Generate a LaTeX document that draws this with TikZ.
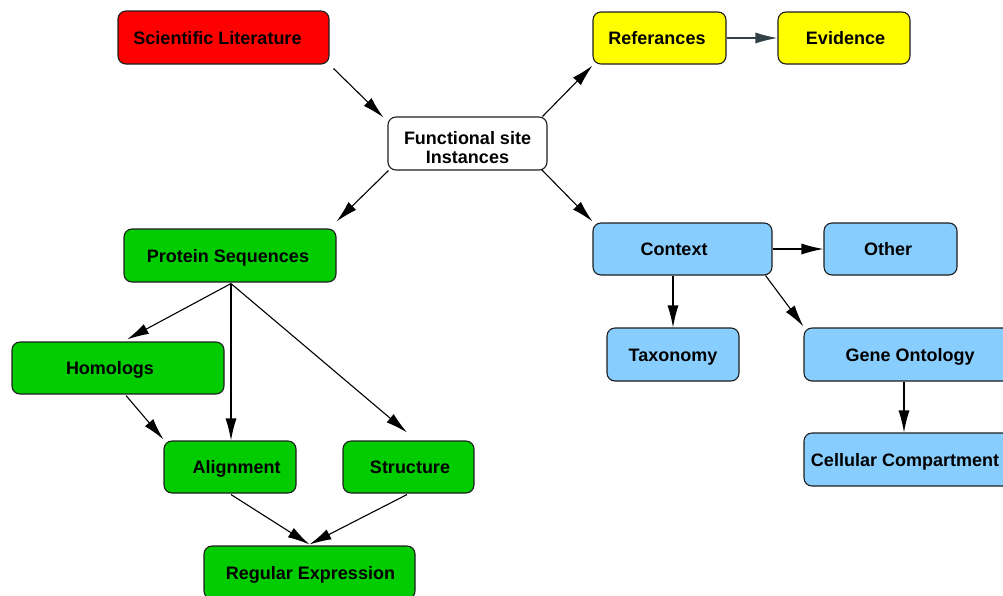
\documentclass[tikz,border=0pt]{standalone}
\usepackage{fontspec}
\setmainfont{Liberation Sans}
\usetikzlibrary{arrows.meta}
\definecolor{cred}{RGB}{255,0,0}
\definecolor{cyel}{RGB}{255,255,0}
\definecolor{cgreen}{RGB}{0,204,0}
\definecolor{cblue}{RGB}{135,206,255}
\definecolor{cborder}{RGB}{30,30,30}
\definecolor{cslate}{RGB}{52,64,72}
\begin{document}
\begin{tikzpicture}[x=1pt,y=-1pt,
  box/.style={draw=cborder, line width=1.1pt, rounded corners=8pt, inner sep=0pt,
    font=\fontsize{18}{18.7}\selectfont\bfseries, text height=13pt, text depth=0pt},
  conn/.style={-{Latex[length=22pt,width=11pt]}, line width=1.1pt, draw=black}
]
\useasboundingbox (0,0) rectangle (1003,595);
% nodes
\node[box, fill=cred, minimum width=211pt, minimum height=53pt] (sl) at (223.5,37.5) {Scientific Literature\hspace*{12pt}};
\node[box, fill=cyel, minimum width=133pt, minimum height=52pt] (ref) at (659.5,38) {Referances\hspace*{5pt}};
\node[box, fill=cyel, minimum width=132pt, minimum height=52pt] (ev) at (844,38) {\hspace*{3pt}Evidence};
\node[box, fill=white, minimum width=159pt, minimum height=53pt, align=center, text height=40pt] (fs) at (467.5,143.5) {Functional site\\Instances};
\node[box, fill=cgreen, minimum width=212pt, minimum height=53pt] (ps) at (230,255.5) {Protein Sequences\hspace*{4pt}};
\node[box, fill=cblue, minimum width=179pt, minimum height=52pt] (ctx) at (682.5,249) {Context\hspace*{17pt}};
\node[box, fill=cblue, minimum width=133pt, minimum height=52pt] (oth) at (890.5,249) {Other\hspace*{5pt}};
\node[box, fill=cblue, minimum width=132pt, minimum height=53pt] (tax) at (673,354.5) {Taxonomy};
\node[box, fill=cblue, minimum width=212pt, minimum height=53pt] (go) at (910,354.5) {Gene Ontology};
\node[box, fill=cblue, minimum width=212pt, minimum height=53pt] (cc) at (910,459.5) {Cellular Compartment\hspace*{10pt}};
\node[box, fill=cgreen, minimum width=212pt, minimum height=52pt] (hom) at (118,368) {Homologs\hspace*{16pt}};
\node[box, fill=cgreen, minimum width=132pt, minimum height=52pt] (al) at (230,467) {\hspace*{13pt}Alignment};
\node[box, fill=cgreen, minimum width=131pt, minimum height=52pt] (st) at (408.5,467) {\hspace*{3pt}Structure};
\node[box, fill=cgreen, minimum width=211pt, minimum height=53pt] (re) at (309.5,572.5) {\hspace*{2pt}Regular Expression};
% connectors
\draw[conn] ([shift={(4,4)}]sl.south east) -- ([shift={(-4,1)}]fs.north west);
\draw[conn] ([shift={(-5,0)}]fs.north east) -- ([shift={(0,1)}]ref.south west);
\draw[conn, draw=cslate] (ref.east) -- (ev.west);
\draw[conn] ([shift={(1,0)}]fs.south west) -- ([shift={(0,-7)}]ps.north east);
\draw[conn] ([shift={(-6,-1)}]fs.south east) -- ([shift={(0,-1)}]ctx.north west);
\draw[conn] (ctx.east) -- (oth.west);
\draw[conn] (tax.north |- ctx.south) -- (tax.north);
\draw[conn] ([shift={(-7,0)}]ctx.south east) -- ([shift={(0,-1)}]go.north west);
\draw[conn] ([xshift=-6pt]go.south) -- ([xshift=-6pt]cc.north);
\draw[conn] ([shift={(1,1)}]ps.south) -- ([shift={(9,-2)}]hom.north);
\draw[conn] ([shift={(1,1)}]ps.south) -- ([xshift=1pt]al.north);
\draw[conn] ([shift={(1,1)}]ps.south) -- ([shift={(-1.5,-8)}]st.north);
\draw[conn] ([shift={(8,1)}]hom.south) -- ([shift={(0,-1)}]al.north west);
\draw[conn] ([shift={(1,1)}]al.south) -- ([shift={(0,-1)}]re.north);
\draw[conn] ([shift={(-1.5,1)}]st.south) -- ([shift={(0,-1)}]re.north);
\end{tikzpicture}
\end{document}
